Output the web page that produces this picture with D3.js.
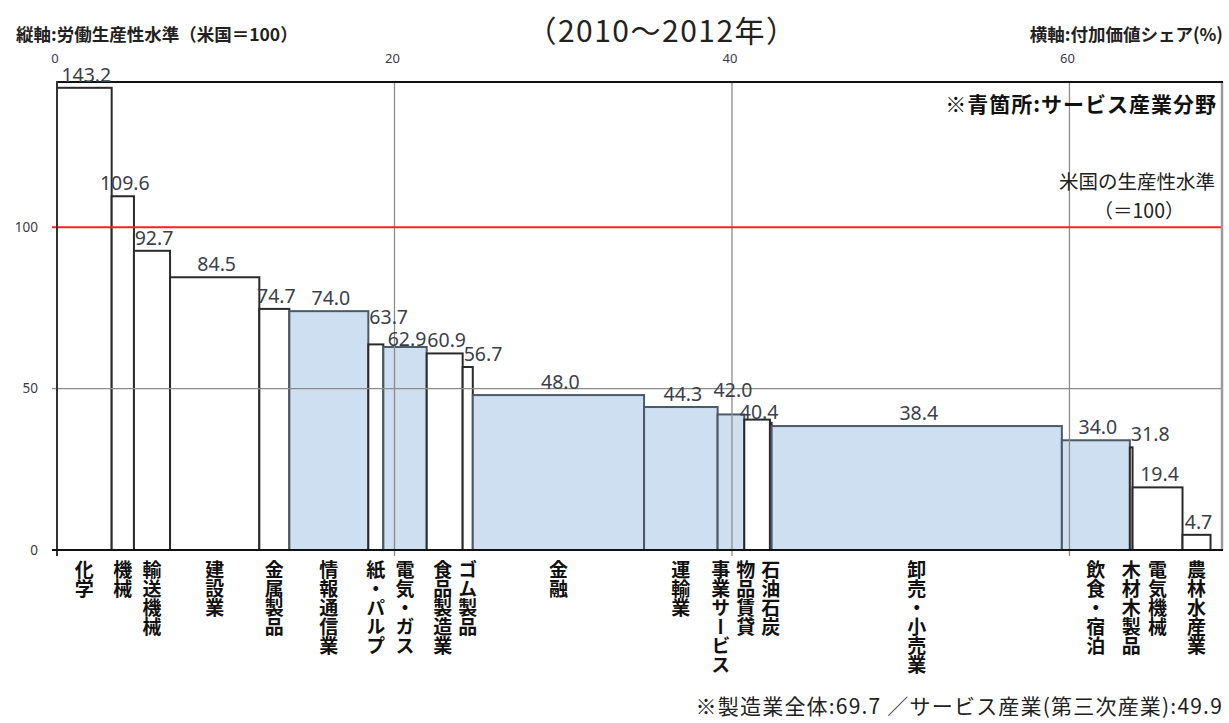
<!DOCTYPE html>
<html>
<head>
<meta charset="utf-8">
<script src="https://cdn.jsdelivr.net/npm/d3@7"></script>
<style>
  body { margin: 0; background: #fff; }
  svg { display: block; font-family: "Noto Sans CJK JP", "Noto Sans", sans-serif; }
</style>
</head>
<body>
<svg id="chart" width="1229" height="723"></svg>
<script>
// 産業名（横軸の並び順）
const categories = ['化学', '機械', '輸送機械', '建設業', '金属製品', '情報通信業', '紙・パルプ', '電気・ガス', '食品製造業', 'ゴム製品',
  '金融', '運輸業', '事業サービス', '物品賃貸', '石油石炭', '卸売・小売業', '飲食・宿泊', '木材木製品', '電気機械', '農林水産業']
// 付加価値シェア（%）＝ 棒の幅
const shares = [3.24, 1.32, 2.14, 5.29, 1.78, 4.68, 0.89, 2.57, 2.13, 0.6,
  10.15, 4.36, 1.58, 1.52, 0.1, 17.2, 4.03, 0.16, 2.96, 1.66]
// 労働生産性水準（米国=100）＝ 棒の高さ
const levels = [143.2, 109.6, 92.7, 84.5, 74.7, 74.0, 63.7, 62.9, 60.9, 56.7,
  48.0, 44.3, 42.0, 40.4, 39.4, 38.4, 34.0, 31.8, 19.4, 4.7]
// 表示されている数値ラベル
const valueLabels = ['143.2', '109.6', '92.7', '84.5', '74.7', '74.0', '63.7', '62.9', '60.9', '56.7',
  '48.0', '44.3', '42.0', '40.4', null, '38.4', '34.0', '31.8', '19.4', '4.7']
// 青箇所：サービス産業分野
const isService = [false, false, false, false, false, true, false, true, false, false,
  true, true, true, false, false, true, true, false, false, false]
const xTicks = [0, 20, 40, 60]
const yTicks = [0, 50, 100]
const usLevel = 100

const W = 1229
const H = 723
const plot = { left: 57, right: 1222, top: 82, bottom: 550 }

const svg = d3.select('#chart')
svg.append('rect').attr('width', W).attr('height', H).attr('fill', '#fff')

// 累積シェアで棒の左右端を決める
let acc = 0
const bars = categories.map((name, i) => {
  const d = { name, x0: acc, x1: acc + shares[i], v: levels[i], label: valueLabels[i], service: isService[i] }
  acc += shares[i]
  return d
})

const x = d3.scaleLinear().domain([0, 69.04]).range([plot.left, plot.right])
const y = d3.scaleLinear().domain([0, 145]).range([plot.bottom, plot.top])

// 棒
svg.append('g')
  .selectAll('rect')
  .data(bars)
  .join('rect')
  .attr('x', d => x(d.x0))
  .attr('y', d => y(d.v))
  .attr('width', d => x(d.x1) - x(d.x0))
  .attr('height', d => y(0) - y(d.v))
  .attr('fill', d => (d.service ? '#cddff0' : '#fff'))
  .attr('stroke', d => (d.service ? '#4d5966' : '#2a2a2a'))
  .attr('stroke-width', 2)

// 目盛線
const grid = svg.append('g').attr('stroke', '#8c8c8c').attr('stroke-width', 1.3)
grid.selectAll('line.vx')
  .data(xTicks.filter(t => t > 0))
  .join('line')
  .attr('x1', d => x(d)).attr('x2', d => x(d))
  .attr('y1', plot.top).attr('y2', plot.bottom + 6)
grid.selectAll('line.hy')
  .data(yTicks.filter(t => t > 0 && t !== usLevel))
  .join('line')
  .attr('x1', plot.left - 5).attr('x2', plot.right)
  .attr('y1', d => y(d)).attr('y2', d => y(d))

// 米国水準線
svg.append('line')
  .attr('x1', plot.left - 5).attr('x2', plot.right)
  .attr('y1', y(usLevel)).attr('y2', y(usLevel))
  .attr('stroke', '#ff2020').attr('stroke-width', 2)

// 枠線・軸
svg.append('line')
  .attr('x1', plot.right).attr('x2', plot.right)
  .attr('y1', plot.top).attr('y2', plot.bottom)
  .attr('stroke', '#9a9a9a').attr('stroke-width', 2.5)
svg.append('line')
  .attr('x1', plot.left).attr('x2', plot.right + 1)
  .attr('y1', plot.top).attr('y2', plot.top)
  .attr('stroke', '#111').attr('stroke-width', 2)
svg.append('line')
  .attr('x1', plot.left).attr('x2', plot.left)
  .attr('y1', plot.top - 1).attr('y2', plot.bottom + 6)
  .attr('stroke', '#333').attr('stroke-width', 2)
svg.append('line')
  .attr('x1', plot.left - 5).attr('x2', plot.right + 1)
  .attr('y1', plot.bottom).attr('y2', plot.bottom)
  .attr('stroke', '#111').attr('stroke-width', 2)

// 横軸目盛（上側）
svg.append('g')
  .selectAll('text')
  .data(xTicks)
  .join('text')
  .attr('x', d => x(d) - 2)
  .attr('y', 63)
  .attr('text-anchor', 'middle')
  .attr('font-size', 13)
  .attr('fill', '#3a3a4a')
  .attr('font-family', '"Noto Sans", sans-serif')
  .text(d => d)

// 縦軸目盛
svg.append('g')
  .selectAll('text')
  .data(yTicks)
  .join('text')
  .attr('x', 38)
  .attr('y', d => y(d))
  .attr('dy', '0.35em')
  .attr('text-anchor', 'end')
  .attr('font-size', 13.5)
  .attr('fill', '#3a3a4a')
  .attr('font-family', '"Noto Sans", sans-serif')
  .text(d => d)

// 数値ラベル
const vl = svg.append('g')
  .attr('font-family', '"Noto Sans", sans-serif')
  .attr('font-size', 19.5)
  .attr('fill', '#3b3f4a')
const placed = bars.filter(d => d.label)
const labelNodes = placed.map(d => {
  const w = x(d.x1) - x(d.x0)
  return vl.append('text')
    .attr('x', w >= 20 ? (x(d.x0) + x(d.x1)) / 2 + 2 : x(d.x0) + 1)
    .attr('y', y(d.v) - 6)
    .attr('text-anchor', w >= 20 ? 'middle' : 'start')
    .text(d.label)
})
// 右隣のラベルと重なる場合：右を少し下げ、左を上へ
for (let i = labelNodes.length - 2; i >= 0; i--) {
  const a = labelNodes[i].node().getBBox()
  const b = labelNodes[i + 1].node().getBBox()
  const hOverlap = a.x + a.width > b.x + 1 && b.x + b.width > a.x
  const ya = +labelNodes[i].attr('y')
  let yb = +labelNodes[i + 1].attr('y')
  if (hOverlap && Math.abs(ya - yb) < 13) {
    yb = Math.min(yb + 5, y(placed[i + 1].v))
    labelNodes[i + 1].attr('y', yb)
    labelNodes[i].attr('y', yb - 22)
  }
}

// 産業名（縦書き）：右から詰めて重なりを避ける
const centers = bars.map(d => (x(d.x0) + x(d.x1)) / 2)
for (let i = centers.length - 2; i >= 0; i--) {
  centers[i] = Math.min(centers[i], centers[i + 1] - 25)
}
svg.append('g')
  .selectAll('text')
  .data(bars)
  .join('text')
  .attr('x', (d, i) => centers[i])
  .attr('y', 560)
  .style('writing-mode', 'vertical-rl')
  .style('text-orientation', 'upright')
  .attr('font-size', 19)
  .attr('font-weight', 'bold')
  .attr('fill', '#111')
  .text(d => d.name)

// タイトル・注記
svg.append('text')
  .attr('x', 662).attr('y', 42)
  .attr('text-anchor', 'middle')
  .attr('font-size', 30)
  .attr('letter-spacing', 1.5)
  .attr('fill', '#222')
  .text('（2010～2012年）')

svg.append('text')
  .attr('x', 16).attr('y', 41)
  .attr('font-size', 17.5).attr('font-weight', 'bold').attr('fill', '#222')
  .text('縦軸:労働生産性水準（米国＝100）')

svg.append('text')
  .attr('x', 1223).attr('y', 41)
  .attr('text-anchor', 'end')
  .attr('font-size', 17.5).attr('font-weight', 'bold').attr('fill', '#222')
  .text('横軸:付加価値シェア(%)')

svg.append('text')
  .attr('x', 1217).attr('y', 112)
  .attr('text-anchor', 'end')
  .attr('font-size', 21).attr('font-weight', 'bold').attr('fill', '#111')
  .attr('letter-spacing', 1)
  .text('※青箇所:サービス産業分野')

svg.append('text')
  .attr('x', 1137).attr('y', 189)
  .attr('text-anchor', 'middle')
  .attr('font-size', 19.5).attr('fill', '#222')
  .text('米国の生産性水準')

svg.append('text')
  .attr('x', 1139).attr('y', 218)
  .attr('text-anchor', 'middle')
  .attr('font-size', 19.5).attr('fill', '#222')
  .text('（＝100）')

svg.append('text')
  .attr('x', 1223).attr('y', 714)
  .attr('text-anchor', 'end')
  .attr('font-size', 21).attr('fill', '#222')
  .attr('letter-spacing', 1.2)
  .text('※製造業全体:69.7 ／サービス産業(第三次産業):49.9')
</script>
</body>
</html>
